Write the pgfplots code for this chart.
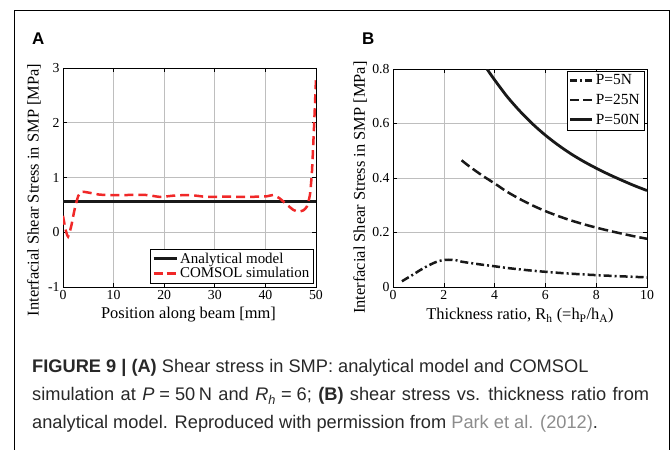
\documentclass[border=0pt]{standalone}
\usepackage{fontspec}
\setmainfont{Liberation Serif}
\newfontfamily\capfont{Liberation Sans}
\usepackage{pgfplots}
\pgfplotsset{compat=1.18}
\definecolor{comsolred}{RGB}{240,40,40}
\definecolor{gridgray}{RGB}{190,190,190}
\definecolor{capgray}{RGB}{40,40,40}
\definecolor{citegray}{RGB}{140,140,140}
\definecolor{curve}{RGB}{25,25,25}

\pgfplotsset{
  matstyle/.style={
    scale only axis,
    axis line style={black, line width=0.7bp},
    tick style={black, line width=0.6bp},
    tick align=inside,
    major tick length=4bp,
    grid=major,
    major grid style={gridgray, line width=0.6bp},
    ticklabel style={font=\fontsize{13.8}{15}\selectfont},
    /pgf/number format/assume math mode=true,
    legend style={font=\fontsize{15}{17}\selectfont, draw=black,
      fill=white, inner sep=1.5bp, row sep=-1bp},
    legend cell align=left,
  }
}

\begin{document}
\begin{tikzpicture}
\path[use as bounding box] (0,0) rectangle (671bp,450bp);
% frame
\draw[black, line width=0.9bp] (14bp,0bp) -- (14bp,440bp) -- (669bp,440bp) -- (669bp,0bp);

\node[anchor=base west, inner sep=0pt, font=\capfont\bfseries\fontsize{17}{20}\selectfont] at (32bp,405bp) {A};
\node[anchor=base west, inner sep=0pt, font=\capfont\bfseries\fontsize{17}{20}\selectfont] at (362bp,405bp) {B};

% Panel A
\begin{axis}[matstyle,
  at={(63bp,163bp)}, anchor=south west,
  width=253bp, height=219bp,
  xmin=0, xmax=50, ymin=-1, ymax=3,
  xtick={0,10,20,30,40,50}, ytick={-1,0,1,2,3},
  xlabel={Position along beam [mm]},
  ylabel={Interfacial Shear Stress in SMP [MPa]},
  every axis x label/.style={at={(axis description cs:0.496,-0.146)}, anchor=base,
     font=\fontsize{16.5}{18}\selectfont},
  every axis y label/.style={at={(axis description cs:-0.115,0.443)}, rotate=90, anchor=center,
     font=\fontsize{16.5}{18}\selectfont},
  legend style={at={(0.988,0.018)}, anchor=south east},
]
\addplot[curve, line width=3bp,
   legend image code/.code={\draw[curve, line width=3bp] (0bp,0bp) -- (23bp,0bp);}]
   coordinates {(0,0.555) (50,0.555)};
\addlegendentry{Analytical model}
\addplot[comsolred, line width=2.5bp, dash pattern=on 9bp off 5bp, smooth, tension=0.3,
   legend image code/.code={\draw[comsolred, line width=2.5bp, dash pattern=on 9bp off 4bp] (0bp,0bp) -- (23bp,0bp);}]
   coordinates {
 (0,0.30) (0.5,0.05) (1.0,-0.08) (1.6,0.10) (2.3,0.42) (3.0,0.66) (3.7,0.74) (5.3,0.72)
 (7.0,0.69) (8.6,0.68) (12,0.68) (16.5,0.68) (19.2,0.645) (22,0.67) (25,0.68) (27,0.66)
 (28.4,0.645) (32,0.65) (36,0.645) (40.2,0.655) (41.5,0.68) (42.8,0.62) (44.3,0.50)
 (45.5,0.41) (46.5,0.375) (47.5,0.40) (48.2,0.47) (48.8,0.68) (49.2,1.1) (49.6,1.9) (50,2.8)};
\addlegendentry{COMSOL simulation}
\end{axis}

% Panel B
\begin{axis}[matstyle,
  at={(393bp,163bp)}, anchor=south west,
  width=254bp, height=218bp,
  xmin=0, xmax=10, ymin=0, ymax=0.8,
  xtick={0,2,4,6,8,10}, ytick={0,0.2,0.4,0.6,0.8},
  yticklabel style={/pgf/number format/fixed},
  xlabel={Thickness ratio, R\textsubscript{h} (=h\textsubscript{P}/h\textsubscript{A})},
  ylabel={Interfacial Shear Stress in SMP [MPa]},
  every axis x label/.style={at={(axis description cs:0.5,-0.151)}, anchor=base,
     font=\fontsize{16.5}{18}\selectfont},
  every axis y label/.style={at={(axis description cs:-0.129,0.456)}, rotate=90, anchor=center,
     font=\fontsize{16.5}{18}\selectfont},
  legend style={at={(0.988,0.993)}, anchor=north east, font=\fontsize{15.5}{17}\selectfont,
     row sep=4bp, inner sep=2bp},
]
\addplot[curve, line width=2.5bp, dash pattern=on 8bp off 3bp on 2bp off 3bp, smooth,
   legend image code/.code={\draw[curve, line width=2.5bp, dash pattern=on 7bp off 3bp on 2bp off 3bp] (0bp,0bp) -- (22bp,0bp);}]
   coordinates {
 (0.35,0.021) (0.6,0.035) (0.8,0.046) (1.0,0.058) (1.2,0.069) (1.4,0.079) (1.6,0.088)
 (1.8,0.095) (2.0,0.099) (2.2,0.100) (2.5,0.098) (2.7,0.093) (3.0,0.0886) (3.5,0.082)
 (4.0,0.076) (4.5,0.0698) (5.0,0.0645) (5.5,0.0598) (6.0,0.0557) (6.5,0.0521) (7.0,0.0489)
 (7.5,0.0461) (8.0,0.0436) (8.5,0.0413) (9.0,0.0392) (9.5,0.0372) (10,0.0354)};
\addlegendentry{P=5N}
\addplot[curve, line width=2.5bp, dash pattern=on 10bp off 4bp, smooth,
   legend image code/.code={\draw[curve, line width=2.5bp, dash pattern=on 9bp off 4bp] (0bp,0bp) -- (22bp,0bp);}]
   coordinates {
 (2.7,0.465) (3.0,0.443) (3.5,0.410) (4.0,0.380) (4.5,0.349) (5.0,0.3225) (5.5,0.299)
 (6.0,0.2785) (6.5,0.2605) (7.0,0.2445) (7.5,0.2305) (8.0,0.218) (8.5,0.2065) (9.0,0.196)
 (9.5,0.186) (10,0.177)};
\addlegendentry{P=25N}
\addplot[curve, line width=2.8bp, smooth,
   legend image code/.code={\draw[curve, line width=2.8bp] (0bp,0bp) -- (22bp,0bp);}]
   coordinates {
 (3.7,0.800) (4.0,0.760) (4.5,0.698) (5.0,0.645) (5.5,0.598) (6.0,0.557) (6.5,0.521)
 (7.0,0.489) (7.5,0.461) (8.0,0.436) (8.5,0.413) (9.0,0.392) (9.5,0.372) (10,0.354)};
\addlegendentry{P=50N}
\end{axis}

% caption
\begin{scope}[every node/.style={anchor=base west, inner sep=0pt, text=capgray,
   font=\capfont\fontsize{18.3}{22}\selectfont}]
\node at (32bp,77bp) {\textbf{FIGURE 9 | (A)} Shear stress in SMP: analytical model and COMSOL};
\node at (32bp,49bp) {\spaceskip=6.4bp plus 1bp simulation at \textit{P}\hspace{5bp}=\hspace{5bp}50\hspace{3.5bp}N and \textit{R\textsubscript{h}}\hspace{5bp}=\hspace{5bp}6; \textbf{(B)} shear stress vs. thickness ratio from};
\node at (32bp,22bp) {analytical model. Reproduced with permission from \textcolor{citegray}{Park et al. (2012)}.};
\end{scope}
\end{tikzpicture}
\end{document}
